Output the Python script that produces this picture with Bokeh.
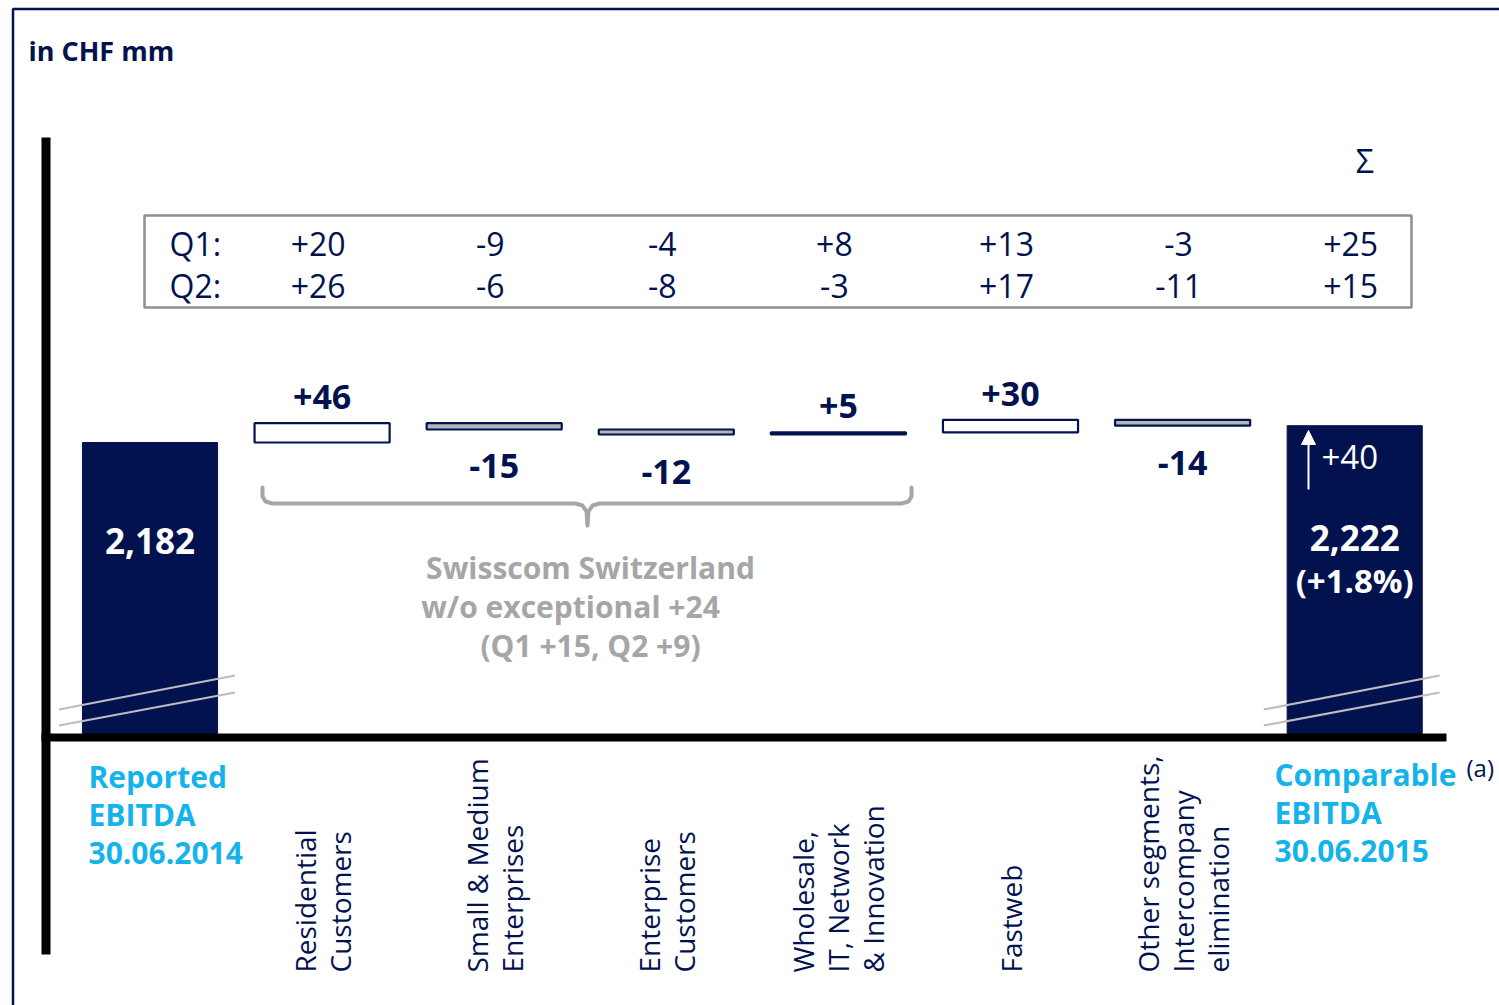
import numpy as np
from bokeh.plotting import figure
from bokeh.models import Range1d, Arrow, NormalHead
from bokeh.core.properties import value
from bokeh.embed import file_html
from bokeh.resources import INLINE

# ---------------- data ----------------
categories = [
    "Reported\nEBITDA\n30.06.2014",
    "Residential\nCustomers",
    "Small & Medium\nEnterprises",
    "Enterprise\nCustomers",
    "Wholesale,\nIT, Network\n& Innovation",
    "Fastweb",
    "Other segments,\nIntercompany\nelimination",
    "Comparable\nEBITDA\n30.06.2015",
]
start_value = 2182
deltas = [46, -15, -12, 5, 30, -14]
end_value = 2222
end_change = 40
end_pct = "(+1.8%)"
q1 = [20, -9, -4, 8, 13, -3]
q2 = [26, -6, -8, -3, 17, -11]
q1_sum = 25
q2_sum = 15
note_lines = ["Swisscom Switzerland", "w/o exceptional +24", "(Q1 +15, Q2 +9)"]
title = "in CHF mm"

# ---------------- layout ----------------
W, H = 1499, 1005
SP = 172.1      # px per category
C0 = 149.5      # px centre of first category
K = 0.42        # px per CHF mm
REF_PY = 442    # px where top of the starting bar sits

XMIN = -C0 / SP
XMAX = XMIN + W / SP
YMAX = start_value + REF_PY / K
YMIN = YMAX - H / K


def X(px):
    return XMIN + px / SP


def Y(py):
    return YMAX - py / K


BASE = Y(733)
NAVY = "#02124f"
CYAN = "#14b3ea"
GRAY_T = "#a6a6a6"
FONT = value("Open Sans")
BW = 0.785

p = figure(width=W, height=H, x_range=Range1d(XMIN, XMAX), y_range=Range1d(YMIN, YMAX),
           output_backend="svg", toolbar_location=None, min_border=0,
           x_axis_location=None, y_axis_location=None)
p.grid.visible = False
p.outline_line_color = None
p.background_fill_color = "white"
p.border_fill_color = "white"

# frame border (top & left)
p.line([X(12.5), X(12.5), X(1499)], [Y(1005), Y(8.5), Y(8.5)], line_color=NAVY, line_width=2.5)

# title
p.text(x=[X(28)], y=[Y(50)], text=[title], text_font=FONT, text_font_style="bold",
       text_font_size="27px", text_color=NAVY, text_align="left", text_baseline="middle")

# ---------------- waterfall ----------------
levels = start_value + np.concatenate([[0], np.cumsum(deltas)])
n = len(deltas)
xs = np.arange(1, n + 1)
bottoms = np.minimum(levels[:-1], levels[1:])
tops = np.maximum(levels[:-1], levels[1:])
fills = ["white" if d > 0 else "#b5b5b5" for d in deltas]
fills = [NAVY if abs(d) < 8 and d > 0 else f for d, f in zip(deltas, fills)]

# total bars
total_x = [0, n + 1]
total_top = [start_value, levels[-1]]
p.quad(left=[x - BW / 2 for x in total_x], right=[x + BW / 2 for x in total_x],
       bottom=[BASE, BASE], top=total_top, fill_color=NAVY, line_color=NAVY, line_width=1)

p.quad(left=xs - BW / 2, right=xs + BW / 2, bottom=bottoms, top=tops,
       fill_color=fills, line_color=NAVY, line_width=2.2)

# delta labels
for x, d, b, t in zip(xs, deltas, bottoms, tops):
    if d > 0:
        p.text(x=[x], y=[t], text=[f"+{d}"], y_offset=-26, text_font=FONT, text_font_style="bold",
               text_font_size="34px", text_color=NAVY, text_align="center", text_baseline="middle")
    else:
        p.text(x=[x], y=[b], text=[f"{d}"], y_offset=37, text_font=FONT, text_font_style="bold",
               text_font_size="34px", text_color=NAVY, text_align="center", text_baseline="middle")

# values inside total bars
p.text(x=[0], y=[Y(540)], text=[f"{start_value:,}"], text_font=FONT, text_font_style="bold",
       text_font_size="35px", text_color="white", text_align="center", text_baseline="middle")
p.text(x=[n + 1], y=[Y(537)], text=[f"{end_value:,}"], text_font=FONT, text_font_style="bold",
       text_font_size="35px", text_color="white", text_align="center", text_baseline="middle")
p.text(x=[n + 1], y=[Y(580)], text=[end_pct], text_font=FONT, text_font_style="bold",
       text_font_size="33px", text_color="white", text_align="center", text_baseline="middle")
p.text(x=[X(1321)], y=[Y(456)], text=[f"+{end_change}"], text_font=FONT, text_font_style="normal",
       text_font_size="33px", text_color="white", text_align="left", text_baseline="middle")
p.add_layout(Arrow(x_start=X(1308), y_start=Y(489), x_end=X(1308), y_end=Y(430),
                   line_color="white", line_width=2,
                   end=NormalHead(size=14, fill_color="white", line_color="white")))

# axis break marks
for bx in total_x:
    for y0, y1 in [(709, 675), (725, 692)]:
        p.segment(x0=[bx - 91 / SP], y0=[Y(y0)], x1=[bx + 85 / SP], y1=[Y(y1)],
                  line_color="#bdbdbd", line_width=2.2)

# black axes
p.quad(left=[X(41)], right=[X(50)], bottom=[Y(954)], top=[Y(137)], fill_color="black", line_color=None)
p.quad(left=[X(41)], right=[X(1446)], bottom=[Y(741)], top=[Y(733)], fill_color="black", line_color=None)

# ---------------- Q table ----------------
p.quad(left=[X(144)], right=[X(1411)], bottom=[Y(307)], top=[Y(215)], fill_color=None,
       line_color="#8f8f8f", line_width=2.5)
row_y = [Y(243), Y(285)]
p.text(x=[X(169), X(169)], y=row_y, text=["Q1:", "Q2:"], text_font=FONT, text_font_size="32px",
       text_color=NAVY, text_align="left", text_baseline="middle")
qx = list(xs) + [n + 1]
p.text(x=qx, y=[row_y[0]] * len(qx), text=[f"{v:+d}" for v in q1 + [q1_sum]], x_offset=-4,
       text_font=FONT, text_font_size="32px", text_color=NAVY, text_align="center", text_baseline="middle")
p.text(x=qx, y=[row_y[1]] * len(qx), text=[f"{v:+d}" for v in q2 + [q2_sum]], x_offset=-4,
       text_font=FONT, text_font_size="32px", text_color=NAVY, text_align="center", text_baseline="middle")
p.text(x=[n + 1], y=[Y(160)], text=["Σ"], x_offset=10, text_font=FONT, text_font_size="32px",
       text_color=NAVY, text_align="center", text_baseline="middle")

# ---------------- brace and note ----------------
brace_px = [(262, 487), (262, 496), (265, 501), (272, 503), (575, 503), (582, 505), (586, 511),
            (587, 525), (588, 511), (592, 505), (599, 503), (901, 503), (908, 501), (911, 496), (911, 487)]
p.line([X(a) for a, b in brace_px], [Y(b) for a, b in brace_px], line_color="#a6a6a6", line_width=4,
       line_join="round", line_cap="round")
for txt, cx, cy in zip(note_lines, [590, 570, 590], [567, 606, 645]):
    p.text(x=[X(cx)], y=[Y(cy)], text=[txt], text_font=FONT, text_font_style="bold",
           text_font_size="30px", text_color=GRAY_T, text_align="center", text_baseline="middle")

# ---------------- category labels ----------------
p.text(x=list(xs), y=[Y(972)] * n, text=categories[1:-1], angle=np.pi / 2, text_font=FONT,
       text_font_size="28px", text_color=NAVY, text_align="left", text_baseline="middle",
       text_line_height=0.92)
p.text(x=[X(88), X(1274)], y=[Y(814), Y(812)], text=[categories[0], categories[-1]], text_font=FONT,
       text_font_style="bold", text_font_size="30px", text_color=CYAN, text_align="left",
       text_baseline="middle", text_line_height=0.93)
p.text(x=[X(1466)], y=[Y(767)], text=["(a)"], text_font=FONT, text_font_size="24px",
       text_color=NAVY, text_align="left", text_baseline="middle")

open("out.html", "w").write(file_html(p, INLINE))
